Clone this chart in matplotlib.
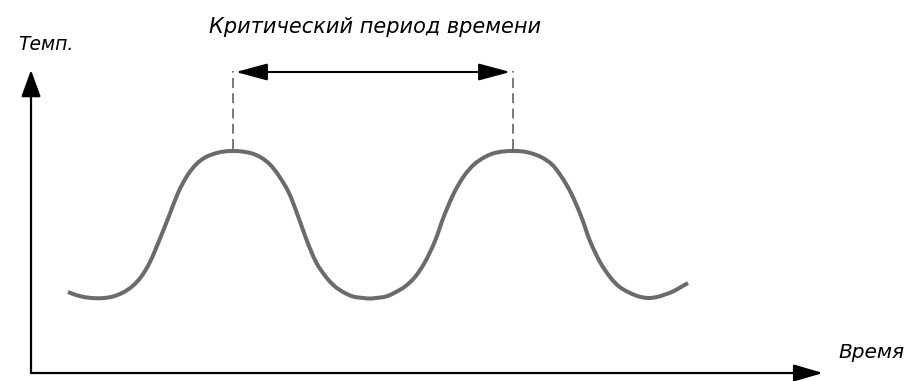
import numpy as np
import matplotlib.pyplot as plt
from matplotlib.patches import FancyArrowPatch, PathPatch
from matplotlib.path import Path

"""Data (read off the picture, arbitrary units)"""
time = [37, 45, 54, 64,
        73, 82, 92, 101, 110, 119, 128, 138, 147, 156, 165, 174, 184, 193,
        202,
        211, 221, 230, 239, 248, 258, 267, 276, 285, 295, 304, 313, 322,
        332, 339,
        345, 355, 364, 374, 384, 394, 404, 413, 423, 433, 443, 453, 462,
        472, 482,
        492, 501, 511, 521, 530, 540, 550, 559, 569, 579, 588, 598, 608,
        617, 626, 634, 642, 650, 657]
temp = [81, 78, 75.8, 74.8,
        75, 76.5, 80.5, 86.5, 96, 111, 132, 157, 180, 197, 208.5, 215.5,
        219.5, 221.5,
        222,
        221.5, 219.5, 215.5, 208.5, 197, 180, 157, 132, 111, 96, 86.5,
        80.5, 76.5,
        75, 74.5,
        75, 76.5, 80.5, 86.5, 96, 111, 132, 157, 180, 197, 208.5, 215.5,
        219.5, 221.5, 222,
        221.5, 219.5, 215.5, 208.5, 197, 180, 157, 132, 111, 96, 86.5,
        80.5, 76.5,
        75, 76, 78.5, 81.5, 86, 90]

peak_times = [202, 482]     # peaks marking the critical period
peak_temp = 222
period_level = 301          # height of the double arrow

title = 'Критический период времени'
ylabel = 'Темп.'
xlabel = 'Время'


def smooth_path(x, y):
    # Catmull-Rom through the read points, drawn as cubic Bezier pieces
    p = np.column_stack([x, y]).astype(float)
    p = np.vstack([p[0], p, p[-1]])
    verts = [p[1]]
    codes = [Path.MOVETO]
    for i in range(1, len(p) - 2):
        c1 = p[i] + (p[i + 1] - p[i - 1]) / 6
        c2 = p[i + 1] - (p[i + 2] - p[i]) / 6
        verts += [c1, c2, p[i + 1]]
        codes += [Path.CURVE4] * 3
    return Path(verts, codes)


fig = plt.figure(figsize=(9.14, 3.81), dpi=100)
ax = fig.add_axes([0, 0, 1, 1])
ax.set_xlim(-31, 883)
ax.set_ylim(-8, 373)
ax.axis('off')

# axes with arrows
ax.annotate('', xy=(0, 303), xytext=(0, 0),
            arrowprops=dict(arrowstyle='-|>,head_length=1.1,head_width=0.4',
                            mutation_scale=15, lw=1.6, color='black',
                            shrinkA=0, shrinkB=0))
ax.annotate('', xy=(792, 0), xytext=(0, 0),
            arrowprops=dict(arrowstyle='-|>,head_length=1.2,head_width=0.35',
                            mutation_scale=15, lw=1.6, color='black',
                            shrinkA=0, shrinkB=0))

# temperature curve
ax.add_patch(PathPatch(smooth_path(time, temp), fill=False,
                       edgecolor='#6b6b6b', lw=2.9, capstyle='butt',
                       joinstyle='round'))

# critical period marks
for t in peak_times:
    ax.plot([t, t], [peak_temp + 2, period_level + 1], color='#555555',
            lw=1.1, ls=(0, (6.5, 3.5)))
ax.add_patch(FancyArrowPatch((peak_times[0], period_level),
                             (peak_times[1], period_level),
                             arrowstyle='<|-|>,head_length=1.3,head_width=0.35',
                             mutation_scale=15, lw=1.5, color='black',
                             shrinkA=2, shrinkB=2))

# labels
ax.text(344, 346, title, ha='center', va='center', fontsize=15,
        style='italic', family='DejaVu Sans')
ax.text(-13, 328, ylabel, ha='left', va='center', fontsize=13.5,
        style='italic', family='DejaVu Sans')
ax.text(807, 20, xlabel, ha='left', va='center', fontsize=14.5,
        style='italic', family='DejaVu Sans')

fig.savefig('out.png', dpi=100)
